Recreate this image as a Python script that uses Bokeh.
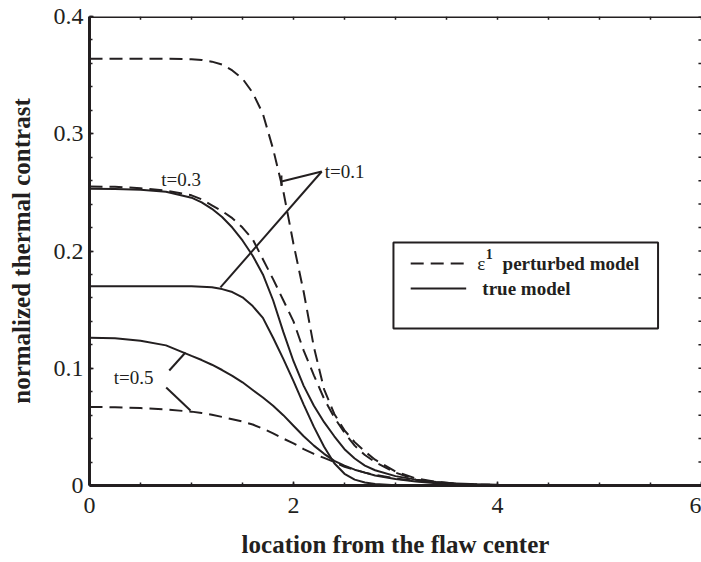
from bokeh.plotting import figure
from bokeh.models import LinearAxis, FixedTicker, Range1d, Span
from bokeh.embed import file_html
from bokeh.resources import INLINE
from bokeh.core.properties import value

# ---------------- data ----------------
x_vals = [0, 0.25, 0.5, 0.75, 1.0, 1.1, 1.2, 1.3, 1.4, 1.5, 1.6, 1.7, 1.8, 1.9,
          2.0, 2.1, 2.2, 2.3, 2.4, 2.5, 2.6, 2.7, 2.8, 3.0, 3.2, 3.4, 3.6, 3.8,
          4.0, 4.5, 5.0, 5.5, 6.0]

pert_t01 = [0.364, 0.364, 0.364, 0.364, 0.3635, 0.363, 0.3615, 0.359, 0.354, 0.347,
            0.335, 0.317, 0.287, 0.251, 0.206, 0.165, 0.118, 0.082, 0.061, 0.047,
            0.037, 0.029, 0.022, 0.012, 0.006, 0.003, 0.0015, 0.0008, 0.0004,
            0.0001, 0, 0, 0]
true_t01 = [0.170, 0.170, 0.170, 0.170, 0.170, 0.1695, 0.169, 0.1675, 0.165, 0.1605,
            0.153, 0.143, 0.126, 0.108, 0.089, 0.069, 0.050, 0.033, 0.019, 0.010,
            0.005, 0.0025, 0.0012, 0.0003, 0, 0, 0, 0, 0, 0, 0, 0, 0]
pert_t03 = [0.255, 0.2548, 0.2535, 0.2515, 0.2475, 0.244, 0.239, 0.234, 0.228, 0.220,
            0.210, 0.193, 0.176, 0.158, 0.140, 0.115, 0.094, 0.074, 0.058, 0.045,
            0.034, 0.026, 0.020, 0.011, 0.005, 0.0025, 0.0012, 0.0006, 0.0003,
            0.0001, 0, 0, 0]
true_t03 = [0.253, 0.2528, 0.2522, 0.2505, 0.2455, 0.2415, 0.236, 0.229, 0.220, 0.209,
            0.196, 0.180, 0.158, 0.131, 0.106, 0.085, 0.068, 0.054, 0.042, 0.031,
            0.023, 0.017, 0.013, 0.008, 0.005, 0.003, 0.0018, 0.001, 0.0006,
            0.0002, 0, 0, 0]
pert_t05 = [0.067, 0.0668, 0.066, 0.0648, 0.063, 0.0618, 0.0603, 0.0585, 0.0565, 0.0545,
            0.052, 0.0485, 0.0445, 0.040, 0.036, 0.031, 0.027, 0.0235, 0.020, 0.016,
            0.0135, 0.011, 0.009, 0.006, 0.004, 0.0025, 0.0015, 0.0009, 0.0005,
            0.0001, 0, 0, 0]
true_t05 = [0.126, 0.1255, 0.1235, 0.1195, 0.1105, 0.107, 0.103, 0.0985, 0.0935, 0.088,
            0.0815, 0.075, 0.068, 0.060, 0.051, 0.042, 0.034, 0.027, 0.021, 0.017,
            0.0135, 0.011, 0.0085, 0.0055, 0.0035, 0.002, 0.0012, 0.0007, 0.0004,
            0.0001, 0, 0, 0]

x_ticks = [0, 2, 4, 6]
x_tick_labels = ["0", "2", "4", "6"]
x_minor = [0.5 * i for i in range(13)]
y_ticks = [0, 0.1, 0.2, 0.3, 0.4]
y_tick_labels = ["0", "0.1", "0.2", "0.3", "0.4"]
y_minor = [round(0.02 * i, 2) for i in range(21)]

time_labels = ["t=0.1", "t=0.3", "t=0.5"]
legend_labels = ["perturbed model", "true model"]

# ---------------- figure ----------------
INK = "#231f20"
FONT = "Liberation Serif"
X0, X1, Y0, Y1 = 0, 6, 0, 0.4

p = figure(width=701, height=562, output_backend="svg", toolbar_location=None,
           x_range=Range1d(X0, X1), y_range=Range1d(Y0, Y1),
           x_axis_location=None, y_axis_location=None,
           min_border_left=89, min_border_right=0, min_border_top=16,
           min_border_bottom=77)
p.outline_line_color = None
p.xgrid.visible = False
p.ygrid.visible = False
p.background_fill_color = "white"
p.border_fill_color = "white"


def style(ax):
    ax.axis_line_width = 3
    ax.axis_line_color = INK
    ax.major_tick_in = 4
    ax.major_tick_out = 0
    ax.minor_tick_in = 3
    ax.minor_tick_out = 0
    ax.major_tick_line_width = 1.5
    ax.minor_tick_line_width = 1.5
    ax.major_tick_line_color = INK
    ax.minor_tick_line_color = INK
    ax.major_label_text_font = FONT
    ax.major_label_text_font_size = "24px"
    ax.major_label_text_color = INK
    ax.axis_label_text_font = FONT
    ax.axis_label_text_font_size = "25px"
    ax.axis_label_text_font_style = "bold"
    ax.axis_label_text_color = INK


xb = LinearAxis(ticker=FixedTicker(ticks=x_ticks, minor_ticks=x_minor),
                axis_label="location from the flaw center")
style(xb)
xb.major_label_overrides = dict(zip(x_ticks, x_tick_labels))
xb.major_label_standoff = 12
xb.axis_label_standoff = 15
p.add_layout(xb, "below")

yl = LinearAxis(ticker=FixedTicker(ticks=y_ticks, minor_ticks=y_minor),
                axis_label="normalized thermal contrast")
style(yl)
yl.major_label_overrides = dict(zip(y_ticks, y_tick_labels))
yl.major_label_standoff = 6
yl.axis_label_standoff = 16
p.add_layout(yl, "left")

# top spine and inward ticks on the top and right sides
p.add_layout(Span(location=Y1, dimension="width", line_color=INK, line_width=3))
top_len = 0.0028
right_len = 0.03
p.segment(x_minor, [Y1] * len(x_minor), x_minor, [Y1 - top_len] * len(x_minor),
          line_color=INK, line_width=1.5)
p.segment([X1] * len(y_minor), y_minor, [X1 - right_len] * len(y_minor), y_minor,
          line_color=INK, line_width=1.5)

# ---------------- curves ----------------
DASH = "13 7"
for ys in (pert_t01, pert_t03, pert_t05):
    p.line(x_vals, ys, line_color=INK, line_width=2, line_dash=DASH)
for ys in (true_t01, true_t03, true_t05):
    p.line(x_vals, ys, line_color=INK, line_width=2)

# ---------------- leader lines and time labels ----------------
lead_x0 = [2.277, 2.277, 1.882, 0.782, 0.752]
lead_y0 = [0.2678, 0.2678, 0.2644, 0.0981, 0.0836]
lead_x1 = [1.882, 1.284, 1.882, 0.941, 0.990]
lead_y1 = [0.2593, 0.1689, 0.2555, 0.1134, 0.0640]
p.segment(lead_x0, lead_y0, lead_x1, lead_y1, line_color=INK, line_width=2)

p.text(x=[2.307, 0.703, 0.238], y=[0.2678, 0.2614, 0.0917], text=time_labels,
       text_font=value(FONT), text_font_size="19px", text_color=INK,
       text_align="left", text_baseline="middle")

# ---------------- legend ----------------
p.quad(left=[2.980], right=[5.574], top=[0.2073], bottom=[0.1339],
       fill_color="white", line_color=INK, line_width=2)
p.segment([3.149], [0.1893], [3.693], [0.1893], line_color=INK, line_width=2,
          line_dash=DASH)
p.segment([3.149], [0.1680], [3.693], [0.1680], line_color=INK, line_width=2)
p.text(x=[3.802], y=[0.1893], text=["ε"], text_font=value(FONT),
       text_font_size="19px", text_color=INK, text_align="left",
       text_baseline="middle")
p.text(x=[3.885], y=[0.1975], text=["1"], text_font=value(FONT),
       text_font_size="14px", text_font_style="bold", text_color=INK,
       text_align="left", text_baseline="middle")
p.text(x=[4.050, 3.851], y=[0.1893, 0.1680], text=legend_labels,
       text_font=value(FONT), text_font_size="19px", text_font_style="bold",
       text_color=INK, text_align="left", text_baseline="middle")

open("out.html", "w").write(file_html(p, INLINE, title="thermal contrast"))
